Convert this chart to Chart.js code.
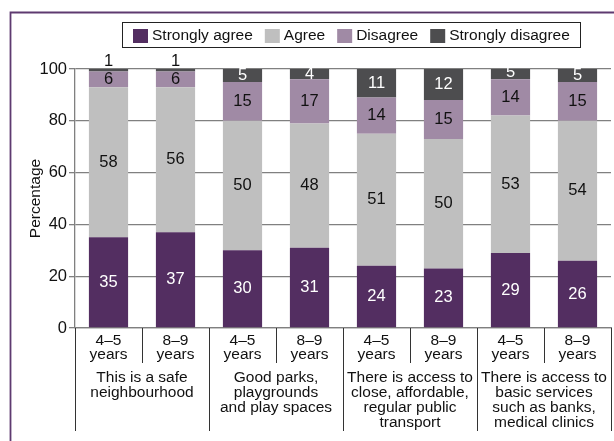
<!DOCTYPE html>
<html><head><meta charset="utf-8">
<script src="https://cdn.jsdelivr.net/npm/chart.js@4"></script>
<style>html,body{margin:0;padding:0;background:#fff}#wrap{position:relative;width:614px;height:441px}</style>
</head><body><div id="wrap"><canvas id="c" width="614" height="441"></canvas></div>
<script>
const categories = [["4–5","years"],["8–9","years"],["4–5","years"],["8–9","years"],["4–5","years"],["8–9","years"],["4–5","years"],["8–9","years"]];
const groups = [["This is a safe","neighbourhood"],["Good parks,","playgrounds","and play spaces"],["There is access to","close, affordable,","regular public","transport"],["There is access to","basic services","such as banks,","medical clinics"]];
const seriesNames = ["Strongly agree","Agree","Disagree","Strongly disagree"];
const stronglyAgree = [35,37,30,31,24,23,29,26];
const agree = [58,56,50,48,51,50,53,54];
const disagree = [6,6,15,17,14,15,14,15];
const stronglyDisagree = [1,1,5,4,11,12,5,5];
const yTicks = [0,20,40,60,80,100];

const FONT = "'Liberation Sans',Arial,sans-serif";
const FS = 15.5;
const FN = 16.5;
Chart.defaults.font.family = FONT;
Chart.defaults.color = '#111';

const frame = {
  id:'frame',
  beforeDraw(chart){
    const ctx = chart.ctx; ctx.save();
    ctx.strokeStyle = '#5e3a70'; ctx.lineWidth = 1.8;
    ctx.beginPath(); ctx.moveTo(10.5, 441); ctx.lineTo(10.5, 12.5); ctx.lineTo(614, 12.5); ctx.stroke();
    ctx.restore();
  }
};

const segLabels = {
  id:'segLabels',
  afterDatasetsDraw(chart){
    const ctx = chart.ctx; ctx.save();
    ctx.font = `${FN}px ${FONT}`; ctx.textAlign = 'center'; ctx.textBaseline = 'middle';
    chart.data.datasets.forEach((ds, di) => {
      const meta = chart.getDatasetMeta(di);
      meta.data.forEach((bar, i) => {
        const v = ds.data[i];
        const p = bar.getProps(['x','y','base'], true);
        if (v < 3) { ctx.fillStyle = '#111'; ctx.fillText(String(v), p.x, Math.min(p.y, p.base) - 8); }
        else { ctx.fillStyle = ds.labelColor; ctx.fillText(String(v), p.x, (p.y + p.base) / 2); }
      });
    });
    ctx.restore();
  }
};

const legendBox = {
  id:'legendBox',
  afterDraw(chart){
    const ctx = chart.ctx; ctx.save();
    ctx.font = `${FS}px ${FONT}`;
    const items = chart.data.datasets.map(d => ({t:d.label, c:d.backgroundColor, w:ctx.measureText(d.label).width}));
    const box = 15, gapBT = 4, gapItem = 12, pad = 11;
    const inner = items.reduce((s,it) => s + box + gapBT + it.w, 0) + gapItem * (items.length - 1);
    const cx = 351;
    const left = Math.round(cx - inner/2 - pad), right = Math.round(cx + inner/2 + pad);
    ctx.strokeStyle = '#222'; ctx.lineWidth = 1;
    ctx.strokeRect(left + 0.5, 22.5, right - left, 25);
    let x = left + pad;
    items.forEach(it => {
      ctx.fillStyle = it.c; ctx.fillRect(x, 29, box, 14);
      x += box + gapBT;
      ctx.fillStyle = '#111'; ctx.textBaseline = 'middle'; ctx.textAlign = 'left';
      ctx.fillText(it.t, x, 36);
      x += it.w + gapItem;
    });
    ctx.restore();
  }
};

const groupAxis = {
  id:'groupAxis',
  afterDraw(chart){
    const ctx = chart.ctx; const xs = chart.scales.x; const top = xs.top;
    const area = chart.chartArea; const n = categories.length;
    ctx.save();
    ctx.strokeStyle = '#333'; ctx.lineWidth = 1;
    for (let b = 0; b <= n; b++) {
      let px = b === 0 ? area.left : b === n ? area.right : (xs.getPixelForValue(b-1) + xs.getPixelForValue(b)) / 2;
      px = Math.round(px) + 0.5;
      const long = b % 2 === 0;
      ctx.beginPath(); ctx.moveTo(px, top); ctx.lineTo(px, top + (long ? 103 : 35)); ctx.stroke();
    }
    ctx.font = `${FS}px ${FONT}`; ctx.fillStyle = '#111'; ctx.textAlign = 'center'; ctx.textBaseline = 'middle';
    groups.forEach((g, gi) => {
      const cx = (xs.getPixelForValue(2*gi) + xs.getPixelForValue(2*gi+1)) / 2;
      g.forEach((ln, li) => ctx.fillText(ln, cx, top + 50 + li * 15));
    });
    ctx.restore();
  }
};

const colors = ['#532e61','#bfbfbf','#a08aa5','#4d4d4f'];
const labelColors = ['#ffffff','#111111','#111111','#ffffff'];
const values = [stronglyAgree, agree, disagree, stronglyDisagree];

new Chart(document.getElementById('c'), {
  type:'bar',
  data:{
    labels: categories,
    datasets: seriesNames.map((name, i) => ({
      label:name, data:values[i], backgroundColor:colors[i], labelColor:labelColors[i],
      borderWidth:0, categoryPercentage:1, barPercentage:0.585
    }))
  },
  options:{
    responsive:false, animation:false,
    layout:{padding:{top:69, left:0, right:3, bottom:0}},
    plugins:{legend:{display:false}, tooltip:{enabled:false}},
    scales:{
      x:{
        stacked:true,
        grid:{display:false, drawTicks:false},
        border:{display:true, color:'#808080', width:1.3},
        ticks:{font:{size:FS, lineHeight:'14px'}, color:'#111', padding:6, autoSkip:false, maxRotation:0},
        afterFit(s){ s.height = 113; }
      },
      y:{
        stacked:true, min:0, max:100,
        afterBuildTicks(s){ s.ticks = yTicks.map(v => ({value:v})); },
        grid:{color:'#808080', lineWidth:1.3, tickLength:6, drawTicks:true},
        border:{display:true, color:'#808080', width:1.3},
        ticks:{font:{size:FN}, color:'#111', padding:2},
        title:{display:true, text:'Percentage', font:{size:FS}, color:'#111', padding:{top:26, bottom:0}},
        afterFit(s){ s.width = 75; }
      }
    }
  },
  plugins:[frame, segLabels, legendBox, groupAxis]
});
</script>
</body></html>
